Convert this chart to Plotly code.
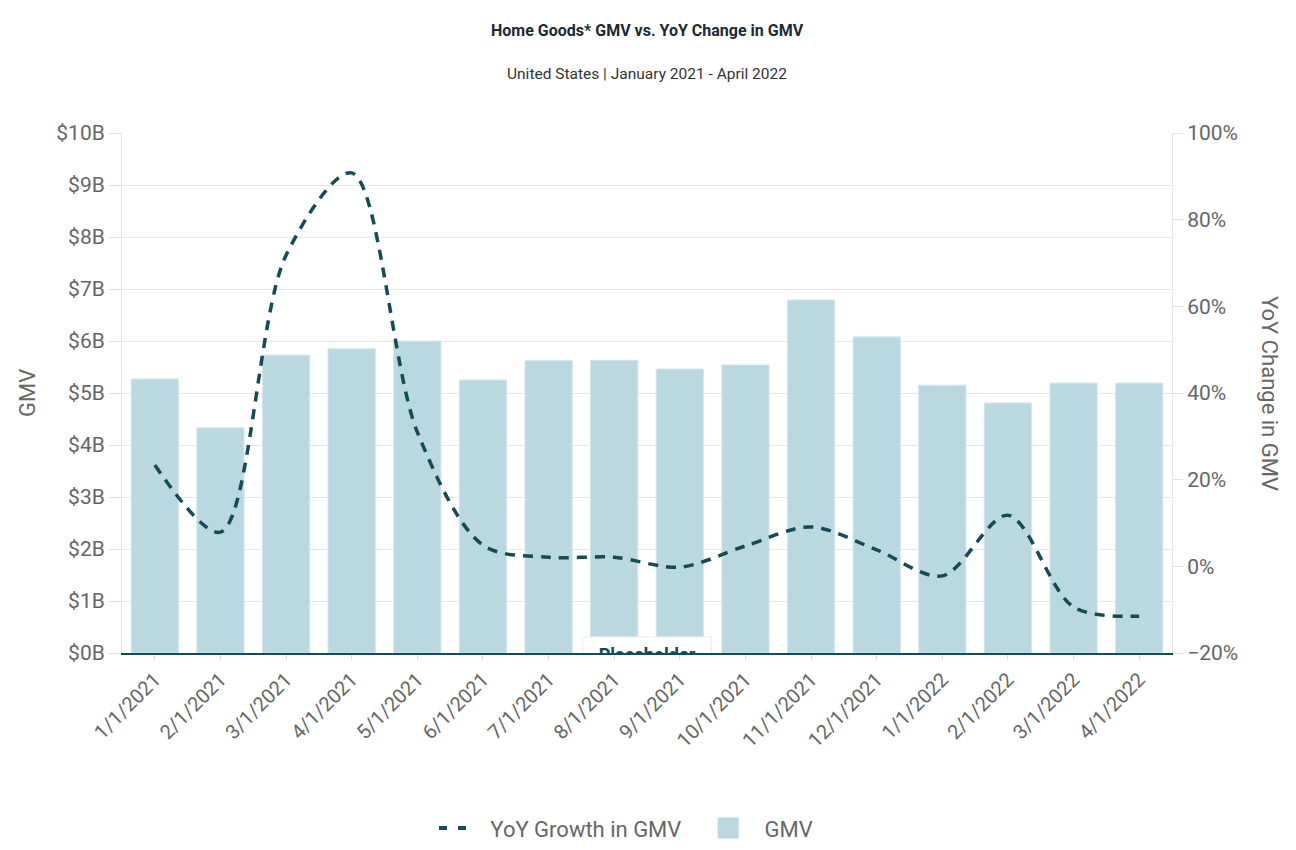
import plotly.graph_objects as go

months = ["1/1/2021", "2/1/2021", "3/1/2021", "4/1/2021", "5/1/2021", "6/1/2021",
          "7/1/2021", "8/1/2021", "9/1/2021", "10/1/2021", "11/1/2021", "12/1/2021",
          "1/1/2022", "2/1/2022", "3/1/2022", "4/1/2022"]
gmv_billions = [5.27, 4.33, 5.73, 5.85, 6.0, 5.25, 5.62, 5.63, 5.46, 5.54, 6.79, 6.08,
                5.15, 4.81, 5.19, 5.19]
yoy_growth_pct = [23.4, 7.9, 71.8, 90.8, 31.0, 4.9, 2.1, 2.1, -0.2, 4.7, 9.1, 3.8,
                  -2.2, 11.8, -9.4, -11.5]
gmv_ticks = list(range(0, 11))
gmv_tick_labels = [f"${v}B" for v in gmv_ticks]

FONT = "Roboto, Arial, sans-serif"
GRAY = "#666666"
TEAL = "#164a54"
BAR = "#b9d8e0"
NB = "\u00a0"

fig = go.Figure()

fig.add_trace(go.Bar(
    x=months, y=gmv_billions, name="GMV",
    marker=dict(color=BAR, line=dict(color="#d3e7ec", width=1)),
    width=0.72, yaxis="y", showlegend=False,
))

fig.add_trace(go.Scatter(
    x=months, y=yoy_growth_pct, name="YoY Growth in GMV", yaxis="y2",
    mode="lines", line=dict(color=TEAL, width=3.5, dash="10px,8px", shape="spline", smoothing=0.9),
    showlegend=False,
))

# "Placeholder" label box, half-hidden behind the x axis (clipped by plot area)
ph_x = [6.52, 8.48, 8.48, 6.52, 6.52]
ph_y = [-0.5, -0.5, 0.31, 0.31, -0.5]
fig.add_trace(go.Scatter(
    x=ph_x, y=ph_y, xaxis="x2", yaxis="y", mode="lines", fill="toself",
    fillcolor="white", line=dict(color="#ececec", width=1), hoverinfo="skip",
    showlegend=False,
))
fig.add_trace(go.Scatter(
    x=[7.5], y=[0.1], xaxis="x2", yaxis="y", mode="text", text=["<b>Placeholder</b>"],
    textposition="bottom center", textfont=dict(family=FONT, size=18, color=TEAL),
    cliponaxis=True, hoverinfo="skip", showlegend=False,
))

# legend entries
fig.add_trace(go.Scatter(
    x=[None], y=[None], name=NB * 3 + "YoY Growth in GMV" + NB * 4, mode="lines", yaxis="y2",
    line=dict(color=TEAL, width=4, dash="8px,11px"), showlegend=True,
))
fig.add_trace(go.Scatter(
    x=[None], y=[None], name=NB * 3 + "GMV", mode="markers",
    marker=dict(symbol="square", size=16, color=BAR, line=dict(color=BAR, width=5)),
    showlegend=True,
))

fig.update_layout(
    width=1296, height=850,
    paper_bgcolor="white", plot_bgcolor="white",
    font=dict(family=FONT, color=GRAY),
    margin=dict(l=122, r=124, t=133, b=197, autoexpand=False),
    bargap=0.28,
    xaxis=dict(
        type="category", tickangle=-45, tickfont=dict(size=20, color=GRAY),
        showline=True, linecolor=TEAL, linewidth=2, showgrid=False,
        ticks="outside", ticklen=5, tickcolor="#dddddd", layer="below traces",
        automargin=False,
    ),
    xaxis2=dict(overlaying="x", range=[-0.5, 15.5], visible=False),
    yaxis=dict(
        range=[0, 10], tickvals=gmv_ticks, ticktext=gmv_tick_labels,
        tickfont=dict(size=21, color=GRAY), showgrid=True, gridcolor="#e6e6e6",
        gridwidth=1, ticks="outside", ticklen=12, tickcolor="#e0e0e0",
        showline=True, linecolor="#e6e6e6", linewidth=1, zeroline=False,
        automargin=False,
    ),
    yaxis2=dict(
        overlaying="y", side="right", range=[-20, 100], dtick=20, ticksuffix="%",
        tickfont=dict(size=21, color=GRAY), showgrid=False, ticks="outside",
        ticklen=10, tickcolor="#e0e0e0", showline=True, linecolor="#e6e6e6",
        linewidth=1, zeroline=False, automargin=False,
    ),
    legend=dict(orientation="h", x=0.48, xanchor="center", y=-0.337, yanchor="middle",
                font=dict(size=22, color=GRAY), itemsizing="trace"),
    annotations=[
        dict(text="<b>Home Goods* GMV vs. YoY Change in GMV</b>", xref="paper", yref="paper",
             x=0.5, y=1 + (133 - 30) / 520, xanchor="center", yanchor="middle",
             showarrow=False, font=dict(family=FONT, size=16, color="#1a2a33")),
        dict(text="United States | January 2021 - April 2022", xref="paper", yref="paper",
             x=0.5, y=1 + (133 - 74) / 520, xanchor="center", yanchor="middle",
             showarrow=False, font=dict(family=FONT, size=15.5, color="#333333")),
        dict(text="GMV", xref="paper", yref="paper", x=(27 - 122) / 1050, y=0.5,
             xanchor="center", yanchor="middle", textangle=-90, showarrow=False,
             font=dict(family=FONT, size=22, color=GRAY)),
        dict(text="YoY Change in GMV", xref="paper", yref="paper", x=(1270 - 122) / 1050,
             y=0.5, xanchor="center", yanchor="middle", textangle=90, showarrow=False,
             font=dict(family=FONT, size=22, color=GRAY)),
    ],
)

fig.write_html("out.html", config={"displayModeBar": False},
               post_script="document.body.style.margin='0';")
